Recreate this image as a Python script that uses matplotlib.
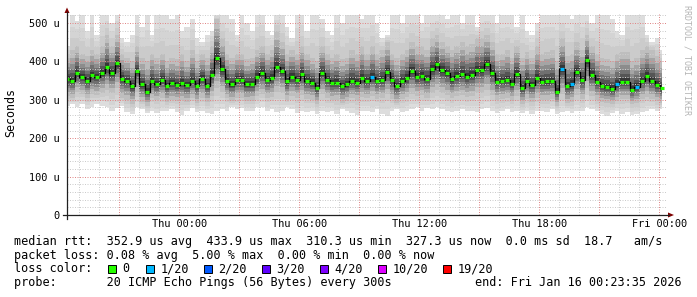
import matplotlib
matplotlib.use("Agg")
import matplotlib.pyplot as plt
import matplotlib.dates as mdates
from matplotlib.ticker import MultipleLocator, FuncFormatter
from matplotlib.patches import Rectangle, Polygon
from matplotlib.lines import Line2D
from datetime import datetime, timedelta
import numpy as np

# ---------------- data (microseconds) ----------------
start_time = datetime(2026, 1, 14, 18, 23, 35)
step_minutes = 15
span_hours = 30

median_us = [
    354, 349, 370, 360, 350, 364, 360, 370, 385, 370, 395, 355, 350, 335, 375, 340, 320, 350,
    340, 352, 335, 343, 338, 343, 338, 350, 335, 355, 335, 365, 410, 380, 350, 340, 352,
    352, 340, 341, 360, 370, 352, 357, 385, 375, 348, 360, 352, 367, 350, 345, 330, 370,
    352, 343, 345, 335, 340, 350, 345, 357, 350, 360, 350, 352, 372, 352, 335, 350, 357,
    375, 360, 362, 355, 380, 392, 378, 370, 353, 363, 368, 360, 365, 378, 378, 393, 370, 347,
    350, 352, 342, 368, 330, 350, 338, 357, 347, 348, 350, 320, 380, 335, 340, 372, 352,
    403, 365, 347, 335, 333, 328, 340, 347, 347, 326, 333, 350, 363, 350, 338, 330,
]
smoke_top_us = [
    440, 521, 505, 521, 480, 521, 470, 521, 521, 500, 521, 460, 450, 470, 521, 490, 521, 470,
    521, 521, 521, 510, 521, 480, 490, 510, 460, 450, 470, 480, 521, 521, 521, 510, 470,
    521, 500, 480, 521, 521, 480, 470, 521, 521, 490, 460, 521, 521, 480, 521, 521, 510,
    480, 470, 521, 500, 521, 521, 521, 510, 521, 521, 500, 460, 470, 521, 521, 500, 521,
    521, 521, 500, 521, 521, 521, 521, 510, 521, 521, 500, 521, 521, 490, 521, 521, 521, 500,
    521, 521, 521, 490, 521, 480, 470, 500, 521, 521, 521, 521, 521, 521, 510, 521, 521,
    521, 500, 521, 521, 521, 510, 480, 470, 521, 521, 521, 521, 470, 450, 460, 430,
]
smoke_upper_us = [
    410, 430, 440, 420, 415, 430, 420, 440, 470, 440, 470, 420, 410, 400, 440, 410, 400, 420,
    410, 420, 400, 410, 405, 420, 400, 430, 400, 420, 410, 440, 510, 460, 420, 410, 420,
    420, 405, 410, 430, 440, 420, 430, 480, 450, 420, 430, 420, 440, 420, 410, 400, 440,
    420, 410, 420, 405, 410, 430, 420, 440, 420, 440, 420, 430, 450, 420, 410, 420, 430,
    450, 440, 440, 430, 460, 470, 450, 440, 430, 440, 450, 440, 445, 460, 460, 470, 450, 420,
    420, 430, 410, 440, 410, 425, 410, 440, 420, 425, 430, 400, 460, 415, 420, 450, 430,
    470, 440, 420, 410, 405, 400, 420, 425, 425, 400, 410, 430, 440, 430, 415, 400,
]
smoke_lower_us = [
    310, 305, 320, 315, 305, 315, 312, 318, 325, 318, 330, 305, 300, 290, 320, 295, 285, 305,
    300, 305, 295, 300, 298, 300, 295, 305, 292, 305, 295, 310, 330, 320, 305, 298, 305,
    305, 298, 298, 310, 315, 305, 308, 320, 318, 300, 310, 305, 312, 302, 300, 290, 315,
    305, 300, 300, 292, 298, 305, 300, 308, 305, 310, 302, 305, 315, 303, 292, 302, 308,
    315, 310, 312, 305, 318, 325, 318, 312, 305, 310, 312, 308, 310, 318, 318, 325, 312, 300,
    302, 305, 298, 310, 290, 302, 295, 305, 300, 300, 302, 285, 315, 292, 295, 312, 302,
    330, 310, 300, 295, 292, 290, 298, 302, 302, 288, 292, 302, 308, 302, 296, 292,
]
smoke_bottom_us = [
    285, 290, 280, 288, 276, 282, 290, 285, 280, 272, 278, 285, 268, 262, 280, 275, 265, 270,
    265, 270, 272, 275, 268, 260, 270, 278, 268, 272, 265, 262, 270, 275, 270, 280, 276,
    278, 272, 270, 280, 282, 270, 275, 268, 270, 280, 275, 265, 270, 268, 272, 262, 270,
    268, 272, 262, 275, 270, 265, 260, 270, 272, 268, 275, 262, 258, 270, 275, 268, 270,
    276, 280, 272, 278, 275, 280, 276, 270, 268, 272, 275, 270, 272, 268, 275, 278, 270, 265,
    270, 275, 268, 272, 266, 270, 262, 272, 270, 268, 275, 262, 268, 270, 265, 272, 270,
    280, 275, 270, 262, 258, 265, 270, 262, 268, 260, 262, 268, 272, 275, 270, 276,
]
lost_pings = [
    0, 0, 0, 0, 0, 0, 0, 0, 0, 0, 0, 0, 0, 0, 0, 0, 0, 0, 0, 0,
    0, 0, 0, 0, 0, 0, 0, 0, 0, 0, 0, 0, 0, 0, 0, 0, 0, 0, 0, 0,
    0, 0, 0, 0, 0, 0, 0, 0, 0, 0, 0, 0, 0, 0, 0, 0, 0, 0, 0, 0,
    0, 1, 0, 0, 0, 0, 0, 0, 0, 0, 0, 0, 0, 0, 0, 0, 0, 0, 0, 0,
    0, 0, 0, 0, 0, 0, 0, 0, 0, 0, 0, 0, 0, 0, 0, 0, 0, 0, 0, 1,
    0, 1, 0, 0, 0, 0, 0, 0, 0, 0, 1, 0, 0, 0, 1, 0, 0, 0, 0, 0,
]
loss_levels = [0, 1, 2, 3, 4, 10, 19]
loss_labels = ["0", "1/20", "2/20", "3/20", "4/20", "10/20", "19/20"]
loss_colors = ["#26ff00", "#00b8ff", "#0059ff", "#5e00ff", "#7e00ff", "#dd00ff", "#ff0000"]

y_max_us = 523.4
legend_line1 = "median rtt:  352.9 us avg  433.9 us max  310.3 us min  327.3 us now  0.0 ms sd  18.7   am/s"
legend_line2 = "packet loss: 0.08 % avg  5.00 % max  0.00 % min  0.00 % now"
legend_line3 = "loss color:"
legend_line4 = "probe:       20 ICMP Echo Pings (56 Bytes) every 300s"
legend_end = "end: Fri Jan 16 00:23:35 2026"
y_label = "Seconds"
watermark = "RRDTOOL / TOBI OETIKER"

# ---------------- figure ----------------
W, H = 697, 297
MONO = "DejaVu Sans Mono"
fig = plt.figure(figsize=(W / 100, H / 100), dpi=100)
fig.patch.set_facecolor("white")


def fx(px):
    return px / W


def fy(py):
    return 1 - py / H


ax = fig.add_axes([fx(67), fy(215), 600 / W, (215 - 14) / H])
ax.set_facecolor("white")

times = [start_time + timedelta(minutes=step_minutes * i) for i in range(len(median_us))]
x = mdates.date2num(times)
med = np.array(median_us, float)
top = np.array(smoke_top_us, float)
up = np.array(smoke_upper_us, float)
lo = np.array(smoke_lower_us, float)
bot = np.array(smoke_bottom_us, float)

# smoke: grey layers, outer light -> inner dark
outer_greys = [221, 212, 203]          # bottom/top -> lower/upper
inner = [(0.0, 190), (0.25, 165), (0.45, 140), (0.6, 112), (0.75, 85), (0.87, 55)]
for k, g in enumerate(outer_greys):
    lower = bot + (lo - bot) * k / 3
    upper = top + (up - top) * k / 3
    ax.fill_between(x, lower, upper, step="mid", color="#%02x%02x%02x" % (g, g, g), lw=0, zorder=1)
for f, g in inner:
    lower = lo + (med - lo) * f
    upper = up + (med - up) * f
    ax.fill_between(x, lower, upper, step="mid", color="#%02x%02x%02x" % (g, g, g), lw=0, zorder=1)

# median line
ax.step(x, med, where="mid", color="black", lw=0.9, zorder=3)
half = 2.0 * 3 / 1440  # 2 px (3 min per px)
seg_cols = [loss_colors[loss_levels.index(n)] if n in loss_levels else loss_colors[-1] for n in lost_pings]
ax.hlines(med, x - half, x + half, colors=seg_cols, lw=2.3, zorder=4, capstyle="butt")

t0 = mdates.date2num(start_time)
ax.set_xlim(t0, t0 + span_hours / 24)
ax.set_ylim(0, y_max_us)

# grid
ax.xaxis.set_major_locator(mdates.HourLocator(byhour=range(0, 24, 3)))
ax.xaxis.set_minor_locator(mdates.HourLocator())


def xfmt(v, pos):
    d = mdates.num2date(v)
    return d.strftime("%a %H:%M") if d.hour % 6 == 0 else ""


ax.xaxis.set_major_formatter(FuncFormatter(xfmt))
ax.yaxis.set_major_locator(MultipleLocator(100))
ax.yaxis.set_minor_locator(MultipleLocator(20))
ax.yaxis.set_major_formatter(FuncFormatter(lambda v, p: "0" if v == 0 else "%d u" % v))

ax.set_axisbelow(False)
ax.grid(which="minor", color="#cccccc", lw=0.72, linestyle=(0, (1, 1.5)))
ax.grid(which="major", color="#e08888", lw=0.72, linestyle=(0, (1, 1.5)))
ax.tick_params(which="both", length=0)
ax.tick_params(axis="y", pad=5.6, labelsize=7.4)
ax.tick_params(axis="x", pad=3.0, labelsize=7.4)
for lab in ax.get_xticklabels() + ax.get_yticklabels():
    lab.set_fontfamily(MONO)
for s in ax.spines.values():
    s.set_visible(False)

# axes lines and arrows (figure pixel coords)
axis_col = "#202020"
fig.add_artist(Line2D([fx(63), fx(669)], [fy(215), fy(215)], color=axis_col, lw=0.9))
fig.add_artist(Line2D([fx(67), fx(67)], [fy(219), fy(12)], color=axis_col, lw=0.9))
fig.add_artist(Polygon([[fx(668), fy(212.5)], [fx(674), fy(215)], [fx(668), fy(217.5)]],
                       closed=True, color="#800000", lw=0))
fig.add_artist(Polygon([[fx(64.5), fy(13)], [fx(67), fy(7.5)], [fx(69.5), fy(13)]],
                       closed=True, color="#800000", lw=0))

# labels
fig.text(fx(10.8), fy(113), y_label, rotation=90, ha="center", va="center",
         fontsize=8.4, family=MONO)
fig.text(fx(686.5), fy(5), watermark, rotation=270, ha="center", va="top",
         fontsize=6.0, family=MONO, color="#b4b4b4")

LX = 14.2
fs = 8.5
fig.text(fx(LX), fy(241.7), legend_line1, ha="left", va="center", fontsize=fs, family=MONO)
fig.text(fx(LX), fy(255.2), legend_line2, ha="left", va="center", fontsize=fs, family=MONO)
fig.text(fx(LX), fy(268.9), legend_line3, ha="left", va="center", fontsize=fs, family=MONO)
fig.text(fx(LX), fy(282.6), legend_line4, ha="left", va="center", fontsize=fs, family=MONO)
fig.text(fx(681.5), fy(282.6), legend_end, ha="right", va="center", fontsize=fs, family=MONO)

box_left = [108, 146, 203.5, 262, 320, 378, 443]
for bx, lab, col in zip(box_left, loss_labels, loss_colors):
    fig.add_artist(Rectangle((fx(bx), fy(273)), 8 / W, 8 / H, facecolor=col,
                             edgecolor="black", lw=0.7))
    fig.text(fx(bx + 14.5), fy(268.9), lab, ha="left", va="center", fontsize=fs, family=MONO)

fig.savefig("out.png", dpi=100, facecolor="white")
